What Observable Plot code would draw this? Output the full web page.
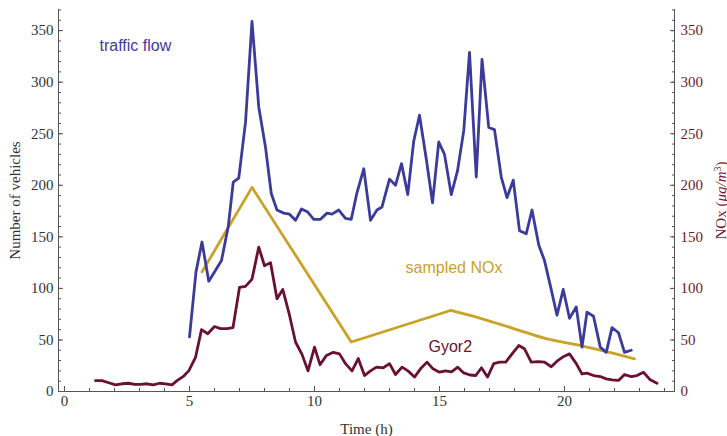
<!DOCTYPE html>
<html><head><meta charset="utf-8">
<script src="https://cdn.jsdelivr.net/npm/d3@7"></script>
<script src="https://cdn.jsdelivr.net/npm/@observablehq/plot@0.6"></script>
<style>body{margin:0;background:#fff}</style>
</head><body><div id="chart"></div>
<script>
// ---- data ----
const trafficTime = [5.0,5.26,5.5,5.77,6.03,6.28,6.55,6.75,6.97,7.24,7.5,7.77,8.04,8.27,8.5,8.77,9.0,9.24,9.48,9.73,9.97,10.24,10.5,10.7,10.97,11.24,11.47,11.7,11.97,12.24,12.5,12.7,13.0,13.24,13.48,13.73,13.97,14.2,14.48,14.72,14.97,15.2,15.47,15.72,15.97,16.2,16.47,16.7,16.97,17.2,17.47,17.7,17.95,18.2,18.47,18.7,18.97,19.2,19.44,19.7,19.95,20.2,20.47,20.7,20.9,21.16,21.43,21.67,21.9,22.16,22.4,22.67];
const trafficFlow = [53,116,145,107,117,127,160,203,207,261,359,276,237,192,176,173,172,166,177,174,167,167,173,172,176,168,167,193,216,166,176,179,206,200,221,191,243,268,224,183,242,230,191,214,253,329,208,322,256,254,208,188,205,156,153,176,142,127,102,74,99,71,82,43,77,73,43,38,62,57,38,40];

const gyorTime = [1.24,1.5,1.77,2.04,2.3,2.57,2.8,3.04,3.3,3.55,3.8,4.04,4.3,4.5,4.77,4.97,5.24,5.48,5.73,6.0,6.24,6.5,6.74,7.0,7.24,7.5,7.77,8.0,8.24,8.5,8.73,9.0,9.24,9.5,9.74,10.0,10.22,10.48,10.75,11.0,11.24,11.5,11.75,12.0,12.24,12.48,12.75,13.0,13.24,13.5,13.74,14.0,14.24,14.5,14.74,15.0,15.24,15.48,15.73,15.97,16.22,16.45,16.68,16.92,17.17,17.4,17.65,17.95,18.17,18.4,18.67,18.95,19.2,19.47,19.73,19.97,20.2,20.47,20.7,20.9,21.16,21.43,21.67,21.9,22.16,22.4,22.67,22.9,23.16,23.43,23.7];
const gyorNOx = [10.5,10.5,8.5,6.5,7.5,8,7,7,7.5,6.5,8,7.4,6.5,10.5,15,20,33,60,56,63,61,61,62,101,102,109,140,122,125,90,99,74,48,36,20,43,26,35,38,36.5,27,20,32,15.5,20,23.6,23,27,16.5,23.6,20,14,22,28.5,22,18.7,20,19,23.6,18,16,15.5,23,14,27,28.5,28.5,38,44.6,41.4,28.5,29,28.5,24,30,34,36.5,27,17,17.8,15.5,14.5,12.3,11.3,10.7,16.5,14.5,15.5,18.7,11.3,8];

const sampledTime = [5.5,7.5,11.47,15.44,16.64,17.97,19.3,20.64,21.97,22.8];
const sampledNOx = [116,198,48,78.6,71,61,51,44.6,37,31.7];

const seriesNames = ["traffic flow", "sampled NOx", "Gyor2"];
const labelTime = [1.4, 13.64, 14.56];
const labelValue = [335, 120, 43.6];

const xMajorTicks = [0,5,10,15,20];
const xMinorTicks = d3.range(0, 25, 1);
const yMajorTicks = [0,50,100,150,200,250,300,350];
const yMinorTicks = d3.range(0, 371, 10);
const xDomain = [-0.24, 24.4];
const yDomain = [0, 370.5];

// ---- styles ----
const blue = "#3b3b9c", wine = "#6a1030", gold = "#c9a227";
const axisColor = "#555", tickText = "#333", rightText = "#6e1a36";
const serif = "'Liberation Serif','Times New Roman',serif";
const sans = "'Liberation Sans',Arial,sans-serif";

const traffic = trafficTime.map((t, i) => ({t, v: trafficFlow[i]}));
const gyor = gyorTime.map((t, i) => ({t, v: gyorNOx[i]}));
const sampled = sampledTime.map((t, i) => ({t, v: sampledNOx[i]}));
const labels = seriesNames.map((name, i) => ({name, t: labelTime[i], v: labelValue[i], c: [blue, gold, wine][i]}));

const chart = Plot.plot({
  width: 727, height: 436,
  marginTop: 9, marginLeft: 58, marginRight: 53, marginBottom: 45,
  style: {fontFamily: serif, fontSize: "15px", background: "white", color: tickText},
  x: {domain: xDomain},
  y: {domain: yDomain},
  marks: [
    Plot.ruleX([xDomain[0]], {stroke: axisColor}),
    Plot.ruleX([xDomain[1]], {stroke: axisColor}),
    Plot.ruleY([yDomain[0]], {stroke: axisColor}),
    Plot.axisX({ticks: xMinorTicks, tickSize: -3, tickFormat: () => "", label: null, stroke: axisColor}),
    Plot.axisX({ticks: xMajorTicks, tickSize: -5, tickPadding: 9, tickFormat: d => String(d), label: "Time (h)", labelAnchor: "center", labelOffset: 42, labelArrow: "none", fill: tickText, stroke: axisColor}),
    Plot.axisY({anchor: "left", ticks: yMinorTicks, tickSize: -3, tickFormat: () => "", label: null, stroke: axisColor}),
    Plot.axisY({anchor: "left", ticks: yMajorTicks, tickSize: -5, tickPadding: 10, tickFormat: d => String(d), label: "Number of vehicles", labelAnchor: "center", labelOffset: 49, labelArrow: "none", fill: tickText, stroke: axisColor}),
    Plot.axisY({anchor: "right", ticks: yMinorTicks, tickSize: -3, tickFormat: () => "", label: null, stroke: axisColor}),
    Plot.axisY({anchor: "right", ticks: yMajorTicks, tickSize: -5, tickPadding: 11, tickFormat: d => String(d), label: "NOx (μg/m³)", labelAnchor: "center", labelOffset: 51, labelArrow: "none", fill: rightText, stroke: axisColor}),
    Plot.line(sampled.slice(0, 4), {x: "t", y: "v", stroke: gold, strokeWidth: 2.8}),
    Plot.line(sampled.slice(3), {x: "t", y: "v", stroke: gold, strokeWidth: 2.8, curve: "monotone-x"}),
    Plot.line(gyor, {x: "t", y: "v", stroke: wine, strokeWidth: 2.8}),
    Plot.line(traffic, {x: "t", y: "v", stroke: blue, strokeWidth: 2.8}),
    Plot.text(labels, {x: "t", y: "v", text: "name", fill: "c", textAnchor: "start", fontFamily: sans, fontSize: 16})
  ]
});
document.getElementById("chart").appendChild(chart);

// italic units with superscript on the right axis title
chart.querySelectorAll("text").forEach(el => {
  if (el.textContent === "NOx (μg/m³)") {
    while (el.firstChild) el.removeChild(el.firstChild);
    const ns = "http://www.w3.org/2000/svg";
    const parts = [["NOx (", {}], ["μg/m", {"font-style": "italic"}], ["3", {"font-size": "10px", "baseline-shift": "super"}], [")", {}]];
    for (const [s, attrs] of parts) {
      const ts = document.createElementNS(ns, "tspan");
      ts.textContent = s;
      for (const k in attrs) ts.setAttribute(k, attrs[k]);
      el.appendChild(ts);
    }
  }
});
</script>
</body></html>
